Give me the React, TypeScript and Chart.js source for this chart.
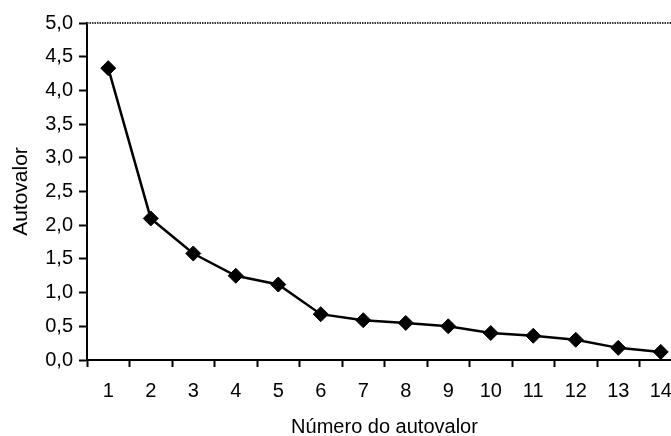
import { useEffect, useRef } from "react";
import { Chart, registerables } from "chart.js";

Chart.register(...registerables);

// Scree plot: eigenvalue by component number
const componentNumbers = ["1", "2", "3", "4", "5", "6", "7", "8", "9", "10", "11", "12", "13", "14"];
const eigenvalues = [4.33, 2.1, 1.58, 1.25, 1.12, 0.68, 0.59, 0.55, 0.5, 0.4, 0.36, 0.3, 0.18, 0.12];
const yMin = 0;
const yMax = 5;
const yStep = 0.5;
const xTitle = "Número do autovalor";
const yTitle = "Autovalor";

const FONT = "'Liberation Sans', Arial, Helvetica, sans-serif";

// Dotted frame line along the top of the plot area
const topBorder = {
  id: "topBorder",
  beforeDatasetsDraw(chart: any) {
    const { ctx, chartArea } = chart;
    ctx.save();
    ctx.strokeStyle = "#333";
    ctx.lineWidth = 2;
    ctx.setLineDash([1.5, 1]);
    ctx.beginPath();
    ctx.moveTo(chartArea.left, chartArea.top);
    ctx.lineTo(chartArea.right + 20, chartArea.top);
    ctx.stroke();
    ctx.restore();
  },
};

export default function App() {
  const canvasRef = useRef<HTMLCanvasElement | null>(null);

  useEffect(() => {
    if (!canvasRef.current) return;
    const chart = new Chart(canvasRef.current, {
      type: "line",
      data: {
        labels: componentNumbers,
        datasets: [
          {
            data: eigenvalues,
            borderColor: "#000",
            backgroundColor: "#000",
            borderWidth: 2.5,
            pointStyle: "rectRot",
            pointRadius: 7.5,
            pointBorderWidth: 1,
            pointBackgroundColor: "#000",
            pointBorderColor: "#000",
            tension: 0,
          },
        ],
      },
      options: {
        responsive: false,
        animation: false,
        layout: { padding: { left: 9, top: 23, right: 18, bottom: 0 } },
        plugins: {
          legend: { display: false },
          tooltip: { enabled: false },
        },
        scales: {
          x: {
            offset: true,
            grid: {
              offset: true,
              drawOnChartArea: false,
              drawTicks: true,
              tickLength: 7,
              tickWidth: 2,
              tickColor: "#000",
            },
            border: { display: true, color: "#000", width: 2 },
            ticks: {
              color: "#000",
              font: { family: FONT, size: 20 },
              padding: 12,
              maxRotation: 0,
            },
            title: {
              display: true,
              text: xTitle,
              color: "#000",
              font: { family: FONT, size: 20 },
              padding: { top: 0, bottom: -3 },
            },
            afterFit(scale: any) {
              scale.height = 76;
            },
          },
          y: {
            min: yMin,
            max: yMax,
            grid: {
              drawOnChartArea: false,
              drawTicks: true,
              tickLength: 8,
              tickWidth: 2,
              tickColor: "#000",
            },
            border: { display: true, color: "#000", width: 2 },
            ticks: {
              stepSize: yStep,
              color: "#000",
              font: { family: FONT, size: 20 },
              padding: 6,
              callback: (v: any) => Number(v).toFixed(1).replace(".", ","),
            },
            title: {
              display: true,
              text: yTitle,
              color: "#000",
              font: { family: FONT, size: 21 },
              padding: { top: 0, bottom: 0 },
            },
            afterFit(scale: any) {
              scale.width = 78;
            },
          },
        },
      },
      plugins: [topBorder],
    });
    return () => chart.destroy();
  }, []);

  return (
    <div
      style={{
        position: "fixed",
        left: 0,
        top: 0,
        width: 671,
        height: 436,
        overflow: "hidden",
        background: "#fff",
      }}
    >
      <canvas ref={canvasRef} width={700} height={436} style={{ display: "block" }} />
    </div>
  );
}
